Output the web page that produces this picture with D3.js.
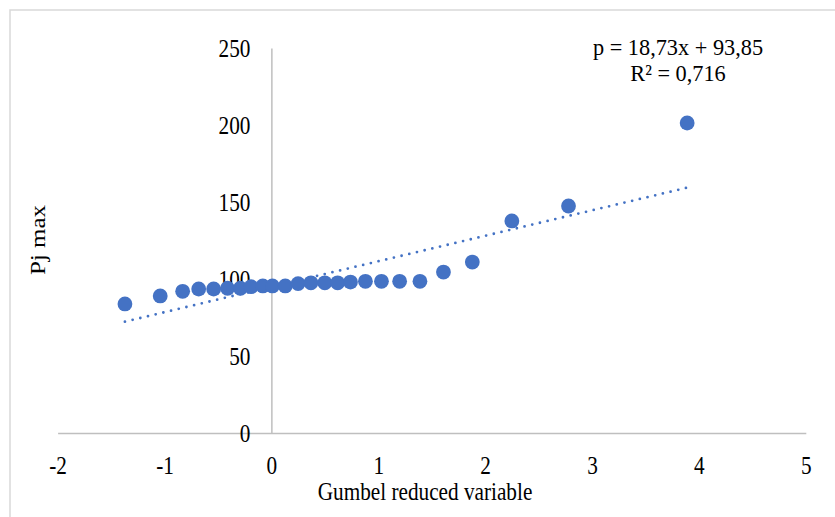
<!DOCTYPE html>
<html>
<head>
<script src="https://d3js.org/d3.v7.min.js"></script>
<style>
    body { margin: 0; background: #fff; }
    svg text { font-family: "Liberation Serif", "Times New Roman", serif; fill: #000; }
</style>
</head>
<body>
<div id="graph"></div>
<script>
// Gumbel reduced variable (x) and Pj max (y)
var gumbelX = [-1.37, -1.04, -0.83, -0.68, -0.54, -0.41, -0.29, -0.19, -0.08, 0.01,
               0.13, 0.25, 0.37, 0.50, 0.62, 0.74, 0.88, 1.03, 1.20, 1.39,
               1.61, 1.88, 2.25, 2.78, 3.89];
var pjMax = [83.8, 89, 92, 93.5, 93.5, 94, 94, 95, 95.5, 95.5,
             95.5, 97, 97.5, 97.5, 97.5, 98, 98.5, 98.5, 98.5, 98.5,
             104.5, 111, 137.7, 147.4, 201.3];
// trendline as drawn (ends)
var trendX = [-1.37, 3.89];
var trendY = [72.3, 159.3];
var xTicks = [-2, -1, 0, 1, 2, 3, 4, 5];
var yTicks = [0, 50, 100, 150, 200, 250];
var equation = ["p = 18,73x + 93,85", "R\u00b2 = 0,716"];

var W = 835, H = 517;
var SX = 0.85; // text in the picture is a bit narrow
var svg = d3.select("#graph").append("svg")
    .attr("width", W).attr("height", H);

// outer chart frame
svg.append("rect")
    .attr("x", 10).attr("y", 10)
    .attr("width", 900).attr("height", 700)
    .attr("fill", "#fff")
    .attr("stroke", "#d9d9d9").attr("stroke-width", 1.5);

var x = d3.scaleLinear().domain([-2, 5]).range([57.6, 805.8]);
var y = d3.scaleLinear().domain([0, 250]).range([433, 48]);

// x axis sits on y = 0
var xAxis = d3.axisBottom(x).tickValues(xTicks).tickSize(0).tickPadding(23)
    .tickFormat(function(d) { return d; });
var xg = svg.append("g")
    .attr("transform", "translate(0," + y(0) + ")")
    .call(xAxis);
xg.select(".domain").attr("stroke", "#bfbfbf").attr("stroke-width", 1.5);
xg.selectAll(".tick text").style("font-size", "25px")
    .style("font-family", '"Liberation Serif", serif').attr("fill", "#000")
    .attr("transform", "scale(" + SX + ",1)");

// y axis sits on x = 0
var yAxis = d3.axisLeft(y).tickValues(yTicks).tickSize(0).tickPadding(21 / SX);
var yg = svg.append("g")
    .attr("transform", "translate(" + x(0) + ",0)")
    .call(yAxis);
yg.select(".domain").attr("stroke", "#bfbfbf").attr("stroke-width", 1.5);
yg.selectAll(".tick text").style("font-size", "25px")
    .style("font-family", '"Liberation Serif", serif').attr("fill", "#000")
    .attr("transform", "scale(" + SX + ",1)");

// trendline (dotted)
var line = d3.line().x(function(d) { return x(d[0]); }).y(function(d) { return y(d[1]); });
svg.append("path")
    .datum(d3.zip(trendX, trendY))
    .attr("d", line)
    .attr("fill", "none")
    .attr("stroke", "#4472c4")
    .attr("stroke-width", 2.8)
    .attr("stroke-linecap", "round")
    .attr("stroke-dasharray", "0,7.9");

// points
svg.selectAll(".pt")
    .data(d3.zip(gumbelX, pjMax))
    .enter().append("circle")
    .attr("class", "pt")
    .attr("cx", function(d) { return x(d[0]); })
    .attr("cy", function(d) { return y(d[1]); })
    .attr("r", 7.4)
    .attr("fill", "#4472c4");

// equation label
svg.append("text")
    .attr("transform", "translate(678,55) scale(0.93,1)")
    .attr("text-anchor", "middle")
    .style("font-size", "24px")
    .selectAll("tspan")
    .data(equation)
    .enter().append("tspan")
    .attr("x", 0)
    .attr("dy", function(d, i) { return i ? 26 : 0; })
    .text(function(d) { return d; });

// axis titles
svg.append("text")
    .attr("transform", "translate(425,500) scale(" + SX + ",1)")
    .attr("text-anchor", "middle")
    .style("font-size", "25px")
    .text("Gumbel reduced variable");

svg.append("text")
    .attr("transform", "translate(45,240) scale(" + SX + ",1) rotate(-90)")
    .attr("text-anchor", "middle")
    .style("font-size", "25px")
    .text("Pj max");
</script>
</body>
</html>
